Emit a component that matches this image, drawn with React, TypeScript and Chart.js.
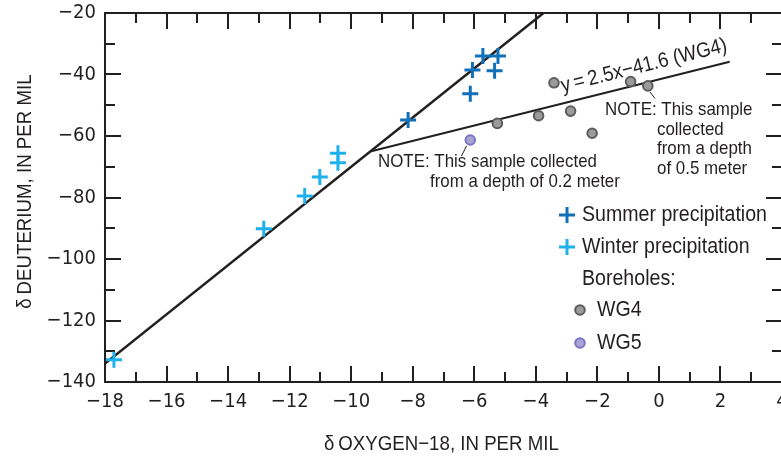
import React, { useEffect, useRef } from 'react';
import { Chart, registerables } from 'chart.js';

Chart.register(...registerables);

// ---- data ----
const summerX = [-8.15, -5.72, -5.23, -6.06, -5.34, -6.13];
const summerY = [-54.8, -34.0, -34.0, -38.5, -38.8, -46.3];
const winterX = [-17.71, -12.84, -11.51, -11.02, -10.43, -10.43];
const winterY = [-132.8, -90.2, -79.5, -73.3, -65.6, -68.7];
const wg4X = [-3.41, -0.92, -0.36, -5.25, -3.91, -2.87, -2.17];
const wg4Y = [-42.7, -42.3, -43.7, -55.9, -53.4, -51.9, -59.1];
const wg5X = [-6.13];
const wg5Y = [-61.3];
const mwlX = [-18, -3.75];
const mwlY = [-134, -20];
const wg4LineX = [-9.38, 2.3];
const wg4LineY = [-65.05, -35.85];

const xTickValues = [-18, -16, -14, -12, -10, -8, -6, -4, -2, 0, 2, 4];
const xMinorValues = [-17, -15, -13, -11, -9, -7, -5, -3, -1, 1, 3];
const yTickValues = [-140, -120, -100, -80, -60, -40, -20];
const yMinorValues = [-130, -110, -90, -70, -50, -30];

const legendLabels = ['Summer precipitation', 'Winter precipitation', 'Boreholes:', 'WG4', 'WG5'];
const xTitle = 'δ\u2009OXYGEN\u221218, IN PER MIL';
const yTitle = 'δ\u2009DEUTERIUM, IN PER MIL';
const fitLabel = 'y\u2009=\u20092.5x\u221241.6 (WG4)';
const noteWG5 = ['NOTE: This sample collected', 'from a depth of 0.2 meter'];
const noteWG4 = ['NOTE: This sample', 'collected', 'from a depth', 'of 0.5 meter'];

const INK = '#231f20';
const SUMMER = '#1170b8';
const WINTER = '#1eb1ec';
const WG4_FILL = '#9b9b9b';
const WG4_EDGE = '#5c5c5c';
const WG5_FILL = '#aaa3d8';
const WG5_EDGE = '#7e74c2';
const TICK_FONT = "'DejaVu Sans Condensed', 'Liberation Sans', sans-serif";
const TEXT_FONT = "'Liberation Sans', Arial, sans-serif";
const SX = 0.89; // condensed look

const toPts = (xs: number[], ys: number[]) => xs.map((x, i) => ({ x, y: ys[i] }));
const fmt = (v: number) => (v < 0 ? '\u2212' + Math.abs(v) : String(v));

function txt(ctx: CanvasRenderingContext2D, s: string, x: number, y: number, size: number, align: CanvasTextAlign = 'left', rot = 0) {
  ctx.save();
  ctx.translate(x, y);
  if (rot) ctx.rotate(rot);
  ctx.scale(SX, 1);
  ctx.font = `${size}px ${TEXT_FONT}`;
  ctx.textAlign = align;
  ctx.textBaseline = 'middle';
  ctx.fillStyle = INK;
  ctx.fillText(s, 0, 0);
  ctx.restore();
}

const framePlugin = {
  id: 'frame',
  beforeDatasetsDraw(chart: any) {
    const { ctx, chartArea: a, scales } = chart;
    const x = scales.x;
    const y = scales.y;
    ctx.save();
    ctx.strokeStyle = INK;
    ctx.lineWidth = 2;
    ctx.strokeRect(a.left, a.top, a.right - a.left, a.bottom - a.top);
    const tick = (px: number, py: number, dx: number, dy: number) => {
      ctx.beginPath();
      ctx.moveTo(px, py);
      ctx.lineTo(px + dx, py + dy);
      ctx.stroke();
    };
    xTickValues.concat(xMinorValues).forEach((v) => {
      const len = xTickValues.includes(v) ? 16 : 10;
      const px = Math.round(x.getPixelForValue(v));
      if (px <= a.left + 1 || px >= a.right - 1) return;
      tick(px, a.bottom, 0, -len);
      tick(px, a.top, 0, len);
    });
    yTickValues.concat(yMinorValues).forEach((v) => {
      const len = yTickValues.includes(v) ? 16 : 10;
      const py = Math.round(y.getPixelForValue(v));
      if (py <= a.top + 1 || py >= a.bottom - 1) return;
      tick(a.left, py, len, 0);
      tick(a.right, py, -len, 0);
    });
    ctx.restore();
  },
  afterDraw(chart: any) {
    const { ctx, chartArea: a, scales } = chart;
    const x = scales.x;
    const y = scales.y;
    ctx.save();

    // axis titles
    txt(ctx, xTitle, (a.left + a.right) / 2 - 2, 444, 21, 'center');
    txt(ctx, yTitle, 25, (a.top + a.bottom) / 2 - 6, 21, 'center', -Math.PI / 2);

    // fit-line label
    const ang = Math.atan2(
      y.getPixelForValue(wg4LineY[1]) - y.getPixelForValue(wg4LineY[0]),
      x.getPixelForValue(wg4LineX[1]) - x.getPixelForValue(wg4LineX[0])
    );
    txt(ctx, fitLabel, 644, 66, 21, 'center', ang);

    // notes
    txt(ctx, noteWG5[0], 378, 162, 19);
    txt(ctx, noteWG5[1], 430, 182, 19);
    txt(ctx, noteWG4[0], 605, 110, 19);
    txt(ctx, noteWG4[1], 657, 129.5, 19);
    txt(ctx, noteWG4[2], 657, 149, 19);
    txt(ctx, noteWG4[3], 657, 168.5, 19);

    // leader lines
    ctx.strokeStyle = INK;
    ctx.lineWidth = 1;
    ctx.beginPath();
    ctx.moveTo(461.5, 156);
    ctx.lineTo(466.5, 146);
    ctx.moveTo(655, 98.5);
    ctx.lineTo(650, 92);
    ctx.stroke();

    // legend
    const cross = (cx: number, cy: number, col: string) => {
      ctx.strokeStyle = col;
      ctx.lineWidth = 3;
      ctx.beginPath();
      ctx.moveTo(cx - 8, cy);
      ctx.lineTo(cx + 8, cy);
      ctx.moveTo(cx, cy - 8);
      ctx.lineTo(cx, cy + 8);
      ctx.stroke();
    };
    const dot = (cx: number, cy: number, fill: string, edge: string) => {
      ctx.fillStyle = fill;
      ctx.strokeStyle = edge;
      ctx.lineWidth = 2;
      ctx.beginPath();
      ctx.arc(cx, cy, 4.8, 0, Math.PI * 2);
      ctx.fill();
      ctx.stroke();
    };
    cross(567, 215, SUMMER);
    cross(567, 247, WINTER);
    dot(580, 310, WG4_FILL, WG4_EDGE);
    dot(580, 343, WG5_FILL, WG5_EDGE);
    txt(ctx, legendLabels[0], 582, 215, 22);
    txt(ctx, legendLabels[1], 582, 247, 22);
    txt(ctx, legendLabels[2], 582, 279, 22);
    txt(ctx, legendLabels[3], 597, 310, 22);
    txt(ctx, legendLabels[4], 597, 343, 22);
    ctx.restore();
  },
};

export default function App() {
  const ref = useRef<HTMLCanvasElement | null>(null);
  useEffect(() => {
    if (!ref.current) return;
    Chart.defaults.font.family = TICK_FONT;
    Chart.defaults.color = INK;
    const chart = new Chart(ref.current, {
      type: 'scatter',
      data: {
        datasets: [
          {
            label: 'Summer precipitation',
            data: toPts(summerX, summerY),
            pointStyle: 'cross',
            pointRadius: 8,
            pointBorderWidth: 3,
            borderColor: SUMMER,
            backgroundColor: SUMMER,
            order: 1,
          },
          {
            label: 'Winter precipitation',
            data: toPts(winterX, winterY),
            pointStyle: 'cross',
            pointRadius: 8,
            pointBorderWidth: 3,
            borderColor: WINTER,
            backgroundColor: WINTER,
            order: 2,
          },
          {
            label: 'WG4',
            data: toPts(wg4X, wg4Y),
            pointStyle: 'circle',
            pointRadius: 4.8,
            pointBorderWidth: 2,
            borderColor: WG4_EDGE,
            backgroundColor: WG4_FILL,
            order: 3,
          },
          {
            label: 'WG5',
            data: toPts(wg5X, wg5Y),
            pointStyle: 'circle',
            pointRadius: 4.8,
            pointBorderWidth: 2,
            borderColor: WG5_EDGE,
            backgroundColor: WG5_FILL,
            order: 4,
          },
          {
            label: 'Meteoric water line',
            data: toPts(mwlX, mwlY),
            showLine: true,
            pointRadius: 0,
            borderColor: INK,
            borderWidth: 2.5,
            order: 10,
          },
          {
            label: 'WG4 fit',
            data: toPts(wg4LineX, wg4LineY),
            showLine: true,
            pointRadius: 0,
            borderColor: INK,
            borderWidth: 2,
            order: 11,
          },
        ],
      },
      options: {
        animation: false,
        responsive: false,
        maintainAspectRatio: false,
        layout: { padding: { top: 13, right: 18, left: 0, bottom: 0 } },
        plugins: { legend: { display: false }, tooltip: { enabled: false } },
        scales: {
          x: {
            type: 'linear',
            min: -18,
            max: 4,
            grid: { display: false, drawTicks: false },
            border: { display: false },
            afterBuildTicks: (s: any) => {
              s.ticks = xTickValues.map((v) => ({ value: v }));
            },
            afterFit: (s: any) => {
              s.height = 74;
              s.paddingLeft = 0;
              s.paddingRight = 0;
            },
            ticks: {
              padding: 8,
              maxRotation: 0,
              font: { size: 20, family: TICK_FONT },
              color: INK,
              callback: (v: any) => fmt(Number(v)),
            },
          },
          y: {
            type: 'linear',
            min: -140,
            max: -20,
            grid: { display: false, drawTicks: false },
            border: { display: false },
            afterBuildTicks: (s: any) => {
              s.ticks = yTickValues.map((v) => ({ value: v }));
            },
            afterFit: (s: any) => {
              s.width = 105;
              s.paddingTop = 0;
              s.paddingBottom = 0;
            },
            ticks: {
              padding: 9,
              font: { size: 20, family: TICK_FONT },
              color: INK,
              callback: (v: any) => fmt(Number(v)),
            },
          },
        },
      },
      plugins: [framePlugin],
    } as any);
    return () => chart.destroy();
  }, []);

  return (
    <div
      style={{
        position: 'fixed',
        left: 0,
        top: 0,
        width: 781,
        height: 456,
        overflow: 'hidden',
        background: '#ffffff',
      }}
    >
      <canvas ref={ref} width={800} height={456} style={{ width: 800, height: 456, display: 'block' }} />
    </div>
  );
}
